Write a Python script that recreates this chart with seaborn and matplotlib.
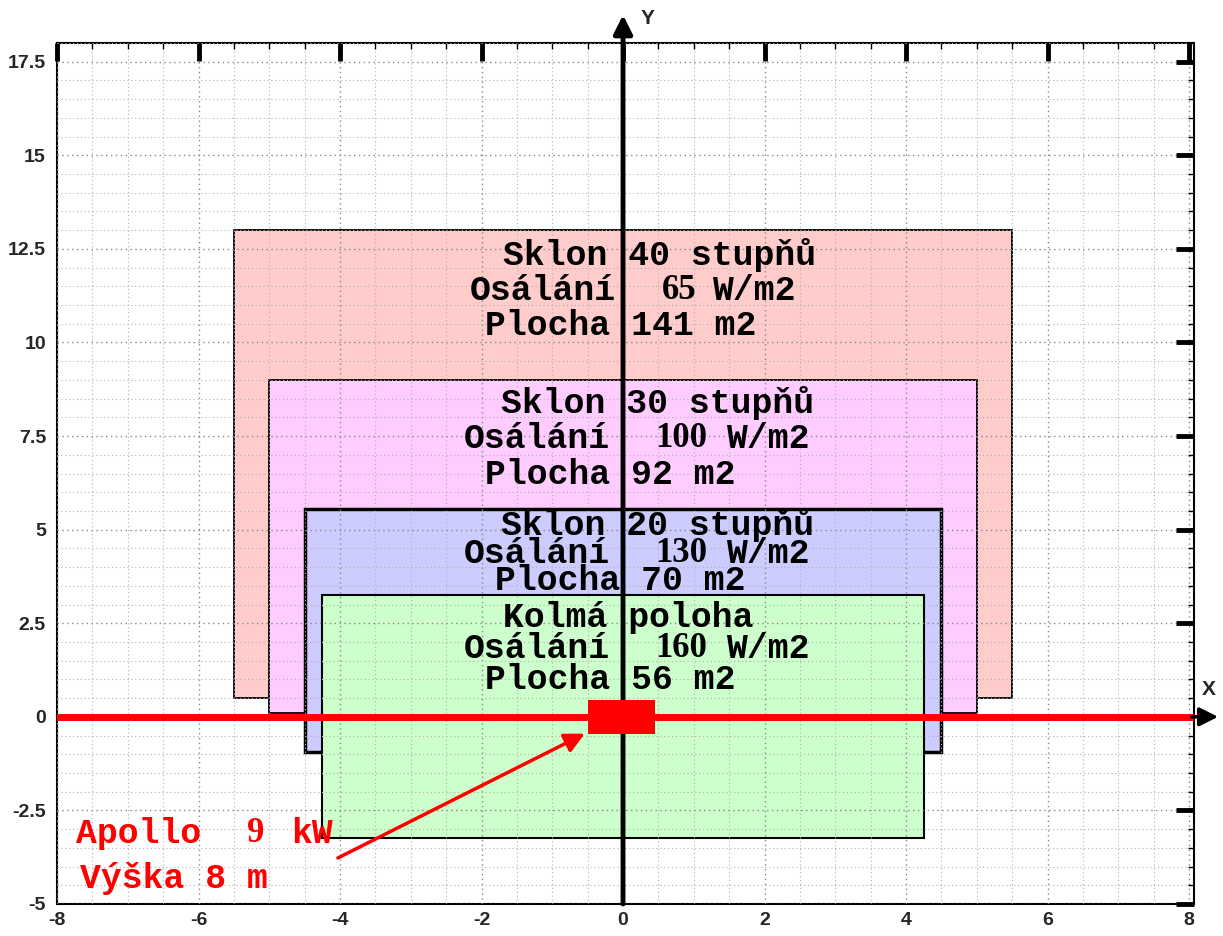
import re
import matplotlib
matplotlib.use("Agg")
import matplotlib.pyplot as plt
import seaborn as sns
import pandas as pd
from matplotlib.patches import Rectangle
from matplotlib.ticker import MultipleLocator, FuncFormatter

# ---------------- data ----------------
rect_x0 = [-5.5, -5.0, -4.5, -4.25]
rect_x1 = [5.5, 5.0, 4.5, 4.25]
rect_y0 = [0.5, 0.1, -0.95, -3.25]
rect_y1 = [13.0, 9.0, 5.55, 3.25]
rect_fill = ["#ffcccc", "#ffccff", "#ccccff", "#ccffcc"]
rect_edge_lw = [1.3, 1.3, 2.5, 1.5]

label_lines = [
    "Sklon 40 stupňů", "Osálání  65 W/m2", "Plocha 141 m2",
    "Sklon 30 stupňů", "Osálání  100 W/m2", "Plocha 92 m2",
    "Sklon 20 stupňů", "Osálání  130 W/m2", "Plocha 70 m2",
    "Kolmá poloha", "Osálání  160 W/m2", "Plocha 56 m2",
]
label_serif_num = [False, True, False,
                   False, True, False,
                   False, True, False,
                   False, True, False]
label_x = [-1.70, -2.16, -1.95,
           -1.73, -2.25, -1.95,
           -1.73, -2.25, -1.81,
           -1.70, -2.25, -1.95]
label_y = [12.33, 11.39, 10.45,
           8.37, 7.43, 6.47,
           5.13, 4.36, 3.64,
           2.65, 1.82, 0.99]

source_x = [-0.5, 0.45]
source_y = [-0.45, 0.45]

axis_line_x = [-8.0, 8.07]
axis_line_y = [0.0, 0.0]

note_lines = ["Apollo  9 kW", "Výška 8 m"]
note_serif_num = [True, False]
note_x = [-7.73, -7.68]
note_y = [-3.13, -4.33]

arrow_start = (-4.03, -3.77)
arrow_end = (-0.54, -0.45)

x_limits = (-8, 8.07)
y_limits = (-5, 18)

# ---------------- figure ----------------
sns.set_style("white")
plt.rcParams["font.family"] = ["Liberation Sans", "DejaVu Sans"]

W, H = 1223, 936
fig = plt.figure(figsize=(W / 100, H / 100), dpi=100)
ax_left, ax_right, ax_top, ax_bottom = 57, 1194, 43, 904
ax = fig.add_axes([ax_left / W, 1 - ax_bottom / H, (ax_right - ax_left) / W,
                   (ax_bottom - ax_top) / H])

# rectangles
for x0, x1, y0, y1, fc, lw in zip(rect_x0, rect_x1, rect_y0, rect_y1, rect_fill, rect_edge_lw):
    ax.add_patch(Rectangle((x0, y0), x1 - x0, y1 - y0, facecolor=fc,
                           edgecolor="black", linewidth=lw, zorder=1))

# red x-axis line via seaborn
line_df = pd.DataFrame({"x": axis_line_x, "y": axis_line_y})
sns.lineplot(data=line_df, x="x", y="y", color="#ff0000", linewidth=5,
             ax=ax, zorder=4)

# black arrow head continuing x axis
ax.annotate("", xy=(8.45, 0), xytext=(8.0, 0), xycoords="data",
            arrowprops=dict(arrowstyle="-|>", color="black", lw=2.5,
                            mutation_scale=28), annotation_clip=False, zorder=5)

# vertical y axis line with arrow
ax.annotate("", xy=(0, 18.75), xytext=(0, -5), xycoords="data",
            arrowprops=dict(arrowstyle="-|>", color="black", lw=3.5,
                            mutation_scale=28, shrinkA=0, shrinkB=0),
            annotation_clip=False, zorder=5)

# red source box
ax.add_patch(Rectangle((source_x[0], source_y[0]), source_x[1] - source_x[0],
                       source_y[1] - source_y[0], facecolor="#ff0000",
                       edgecolor="none", zorder=6))

# red arrow
ax.annotate("", xy=arrow_end, xytext=arrow_start,
            arrowprops=dict(arrowstyle="-|>", color="#ff0000", lw=2.5,
                            mutation_scale=30, shrinkA=0, shrinkB=0), zorder=6)

# labels (monospace, with the standalone number in a bold serif face)
mono = ["Liberation Mono", "DejaVu Sans Mono"]
serif = ["Liberation Serif", "DejaVu Serif"]
FS = 25
char_px = 0.6 * FS * 100 / 72
data_per_px = (x_limits[1] - x_limits[0]) / (ax_right - ax_left)
char_w = char_px * data_per_px


def draw_line(s, x, y, serif_num, color, post_shift):
    if not serif_num:
        ax.text(x, y, s, family=mono, fontweight="bold", fontsize=FS,
                ha="left", va="center", color=color, zorder=7)
        return
    m = re.search(r"(?<=\s)\d+(?=\s)", s)
    pre = s[:m.start()].rstrip()
    post = s[m.end():].lstrip()
    post_idx = len(s) - len(post)
    ax.text(x, y, pre, family=mono, fontweight="bold", fontsize=FS,
            ha="left", va="center", color=color, zorder=7)
    ax.text(x + m.start() * char_w + 0.06, y, m.group(), family=serif,
            fontweight="bold", fontsize=FS, ha="left", va="center",
            color=color, zorder=7)
    ax.text(x + post_idx * char_w + post_shift, y, post, family=mono,
            fontweight="bold", fontsize=FS, ha="left", va="center",
            color=color, zorder=7)


for s, x, y, sn in zip(label_lines, label_x, label_y, label_serif_num):
    draw_line(s, x, y, sn, "black", -0.12)

for s, x, y, sn in zip(note_lines, note_x, note_y, note_serif_num):
    draw_line(s, x, y, sn, "#ff0000", 0.1)

ax.text(8.28, 0.72, "X", fontsize=15, fontweight="bold", ha="center", va="center",
        clip_on=False)
ax.text(0.35, 18.66, "Y", fontsize=15, fontweight="bold", ha="center", va="center",
        clip_on=False)

# axes
ax.set_xlim(*x_limits)
ax.set_ylim(*y_limits)
ax.set_xlabel("")
ax.set_ylabel("")
ax.xaxis.set_major_locator(MultipleLocator(2))
ax.xaxis.set_minor_locator(MultipleLocator(0.5))
ax.yaxis.set_major_locator(MultipleLocator(2.5))
ax.yaxis.set_minor_locator(MultipleLocator(0.5))
fmt = FuncFormatter(lambda v, p: "%g" % v)
ax.xaxis.set_major_formatter(fmt)
ax.yaxis.set_major_formatter(fmt)

ax.tick_params(which="major", direction="in", length=13, width=3.5,
               top=True, right=True, labelsize=14, color="black")
ax.tick_params(which="minor", direction="in", length=4, width=1,
               top=True, right=True, color="black")
ax.tick_params(axis="y", which="major", pad=8)
ax.tick_params(axis="x", which="major", pad=6)
for lbl in ax.get_xticklabels() + ax.get_yticklabels():
    lbl.set_fontweight("bold")

for sp in ax.spines.values():
    sp.set_linewidth(1.5)
    sp.set_color("black")

ax.set_axisbelow(False)
ax.grid(which="major", linestyle=(0, (1, 2.5)), color="#888888", linewidth=1.0, zorder=2.5)
ax.grid(which="minor", linestyle=(0, (1, 2.5)), color="#b0b0b0", linewidth=0.8, zorder=2.5)

fig.savefig("out.png", dpi=100)
